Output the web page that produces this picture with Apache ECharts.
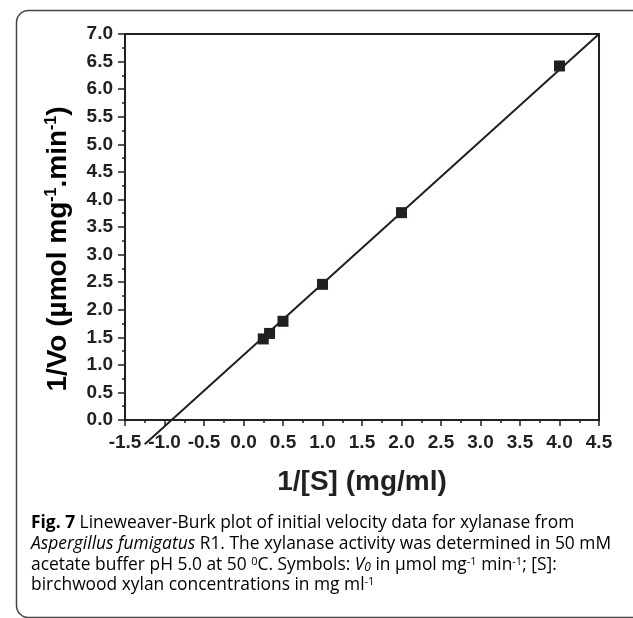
<!DOCTYPE html>
<html>
<head>
<meta charset="utf-8">
<script src="https://cdn.jsdelivr.net/npm/echarts@6/dist/echarts.min.js"></script>
<style>
html,body{margin:0;padding:0;background:#fff;}
#chart{width:633px;height:618px;}
</style>
</head>
<body>
<div id="chart"></div>
<script>
// ---- data ----
var invS = [0.25, 0.33, 0.5, 1.0, 2.0, 4.0];          // 1/[S] (mg/ml)
var invV = [1.47, 1.57, 1.79, 2.46, 3.76, 6.42];      // 1/Vo
var fitX = [-1.25, 4.5];                               // regression line ends
var fitY = [-0.44, 7.0];
var xMin = -1.5, xMax = 4.5, yMin = 0, yMax = 7.0, step = 0.5;
var xTitle = '1/[S] (mg/ml)';
var yTitle = '{b|1/Vo (µmol mg}{s|-1}{b|.min}{s|-1}{b|)}';
var captionLines = [
  '{b|Fig. 7} {n|Lineweaver-Burk plot of initial velocity data for xylanase from}',
  '{i|Aspergillus fumigatus} {n|R1. The xylanase activity was determined in 50 mM}',
  '{n|acetate buffer pH 5.0 at 50 }{s|0}{n|C. Symbols: }{i|V}{sub|0}{n| in µmol mg}{s|-1}{n| min}{s|-1}{n|; [S]:}',
  '{n|birchwood xylan concentrations in mg ml}{s|-1}'
];

var ink = '#231f20';
var pts = invS.map(function (x, i) { return [x, invV[i]]; });
var fit = fitX.map(function (x, i) { return [x, fitY[i]]; });

var capFont = '"Open Sans", "Noto Sans", sans-serif';
var capSize = 17.4;
var capRich = {
  n: {fontFamily: capFont, fontSize: capSize, color: ink},
  b: {fontFamily: capFont, fontSize: capSize, color: ink, fontWeight: 'bold'},
  i: {fontFamily: capFont, fontSize: capSize, color: ink, fontStyle: 'italic'},
  s: {fontFamily: capFont, fontSize: 11, color: ink, verticalAlign: 'top', lineHeight: 13},
  sub: {fontFamily: capFont, fontSize: 12, color: ink, fontStyle: 'italic', verticalAlign: 'bottom', lineHeight: 15}
};
var titleFont = '"Liberation Sans", Arial, sans-serif';

var graphics = [{
  type: 'rect', left: 14, top: 8, z: -1,
  shape: {width: 640, height: 607, r: 12},
  style: {fill: 'none', stroke: '#444', lineWidth: 1.5}
}, {
  type: 'text', x: 58, y: 249, rotation: Math.PI / 2,
  style: {
    text: yTitle, align: 'center', verticalAlign: 'middle',
    rich: {
      b: {fontFamily: titleFont, fontWeight: 'bold', fontSize: 28, color: ink},
      s: {fontFamily: titleFont, fontWeight: 'bold', fontSize: 16, color: ink, verticalAlign: 'top', lineHeight: 18}
    }
  }
}];
captionLines.forEach(function (t, k) {
  graphics.push({
    type: 'text', left: 31, top: 515 + k * 20.6,
    style: {text: t, rich: capRich, font: capSize + 'px ' + capFont}
  });
});

var tickFont = {fontFamily: titleFont, fontWeight: 'bold', fontSize: 19, color: ink};

var chart = echarts.init(document.getElementById('chart'), null, {renderer: 'canvas'});
chart.setOption({
  backgroundColor: '#fff',
  animation: false,
  grid: {left: 125, right: 34, top: 34, bottom: 198, show: true, borderColor: ink, borderWidth: 2, backgroundColor: 'transparent'},
  xAxis: {
    type: 'value', min: xMin, max: xMax, interval: step,
    axisLine: {show: true, onZero: false, lineStyle: {color: ink, width: 2}},
    axisTick: {show: true, length: 6, lineStyle: {color: ink, width: 1.5}},
    minorTick: {show: true, splitNumber: 2, length: 3, lineStyle: {color: ink, width: 1.5}},
    splitLine: {show: false},
    axisLabel: Object.assign({margin: 13, formatter: function (v) { return v.toFixed(1); }}, tickFont),
    name: xTitle, nameLocation: 'middle', nameGap: 48,
    nameTextStyle: {fontFamily: titleFont, fontWeight: 'bold', fontSize: 28, color: ink}
  },
  yAxis: {
    type: 'value', min: yMin, max: yMax, interval: step,
    axisLine: {show: true, onZero: false, lineStyle: {color: ink, width: 2}},
    axisTick: {show: true, length: 7, lineStyle: {color: ink, width: 1.5}},
    minorTick: {show: true, splitNumber: 2, length: 3, lineStyle: {color: ink, width: 1.5}},
    splitLine: {show: false},
    axisLabel: Object.assign({margin: 12, formatter: function (v) { return v.toFixed(1); }}, tickFont)
  },
  graphic: graphics,
  series: [{
    type: 'line', data: fit, symbol: 'none', clip: false, silent: true,
    lineStyle: {color: ink, width: 2}, z: 2
  }, {
    type: 'scatter', data: pts, symbol: 'rect', symbolSize: 11, clip: false,
    itemStyle: {color: ink, opacity: 1}, z: 3
  }]
});
</script>
</body>
</html>
